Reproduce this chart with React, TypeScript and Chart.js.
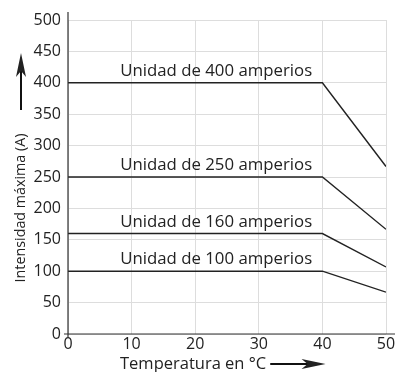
import React, { useEffect, useRef } from "react";
import { Chart, registerables } from "chart.js";

Chart.register(...registerables);

const temps = [0, 40, 50];
const unit400 = [400, 400, 266.7];
const unit250 = [250, 250, 166.7];
const unit160 = [160, 160, 106.7];
const unit100 = [100, 100, 66.7];
const seriesLabels = [
  "Unidad de 400 amperios",
  "Unidad de 250 amperios",
  "Unidad de 160 amperios",
  "Unidad de 100 amperios",
];
const labelX = 23.3;
const xTitle = "Temperatura en °C";
const yTitle = "Intensidad máxima (A)";

const FONT = "'Open Sans', 'Noto Sans', sans-serif";

const decorPlugin = {
  id: "decor",
  afterDatasetsDraw(chart: any) {
    const ctx = chart.ctx;
    const { left, right, top, bottom } = chart.chartArea;
    const xs = chart.scales.x;
    const ys = chart.scales.y;
    ctx.save();
    // axes
    ctx.strokeStyle = "#333";
    ctx.lineWidth = 1.2;
    ctx.beginPath();
    ctx.moveTo(left, top - 8);
    ctx.lineTo(left, bottom + 3);
    ctx.moveTo(left - 4, bottom);
    ctx.lineTo(right + 9, bottom);
    ctx.stroke();
    // series labels
    ctx.fillStyle = "#222";
    ctx.font = `16.8px ${FONT}`;
    ctx.textAlign = "center";
    ctx.textBaseline = "alphabetic";
    chart.data.datasets.forEach((ds: any, i: number) => {
      const y = ys.getPixelForValue(ds.data[0].y);
      ctx.fillText(seriesLabels[i], xs.getPixelForValue(labelX), y - 7);
    });
    // x title with arrow
    ctx.font = `16.5px ${FONT}`;
    ctx.textAlign = "left";
    ctx.textBaseline = "middle";
    const tx = 120;
    const ty = 364;
    ctx.fillText(xTitle, tx, ty);
    const tw = ctx.measureText(xTitle).width;
    const ax0 = tx + tw + 4;
    const ax1 = xs.getPixelForValue(40.5);
    ctx.strokeStyle = "#111";
    ctx.lineWidth = 2;
    ctx.beginPath();
    ctx.moveTo(ax0, ty);
    ctx.lineTo(ax1 - 10, ty);
    ctx.stroke();
    ctx.beginPath();
    ctx.moveTo(ax1, ty);
    ctx.lineTo(ax1 - 24, ty - 5);
    ctx.lineTo(ax1 - 18, ty);
    ctx.lineTo(ax1 - 24, ty + 5);
    ctx.closePath();
    ctx.fill();
    // y title with arrow
    ctx.font = `14.3px ${FONT}`;
    ctx.save();
    ctx.translate(21, 208);
    ctx.rotate(-Math.PI / 2);
    ctx.textAlign = "center";
    ctx.textBaseline = "middle";
    ctx.fillText(yTitle, 0, 0);
    ctx.restore();
    const yx = 21;
    const yTop = 53;
    const yBot = 110;
    ctx.beginPath();
    ctx.moveTo(yx, yBot);
    ctx.lineTo(yx, yTop + 10);
    ctx.stroke();
    ctx.beginPath();
    ctx.moveTo(yx, yTop);
    ctx.lineTo(yx - 5, yTop + 24);
    ctx.lineTo(yx, yTop + 18);
    ctx.lineTo(yx + 5, yTop + 24);
    ctx.closePath();
    ctx.fill();
    ctx.restore();
  },
};

export default function App() {
  const ref = useRef<HTMLCanvasElement>(null);
  useEffect(() => {
    const mk = (vals: number[]) => ({
      data: temps.map((t, i) => ({ x: t, y: vals[i] })),
      borderColor: "#222",
      borderWidth: 1.4,
      pointRadius: 0,
      fill: false,
      tension: 0,
    });
    const chart = new Chart(ref.current!, {
      type: "line",
      data: {
        datasets: [mk(unit400), mk(unit250), mk(unit160), mk(unit100)],
      },
      options: {
        animation: false,
        responsive: false,
        maintainAspectRatio: false,
        layout: { padding: { top: 20, right: 12, left: 0, bottom: 0 } },
        plugins: { legend: { display: false }, tooltip: { enabled: false } },
        scales: {
          x: {
            type: "linear",
            min: 0,
            max: 50,
            ticks: { stepSize: 10, color: "#222", font: { family: FONT, size: 16 }, padding: 1 },
            grid: { color: "#dddddd", drawTicks: false },
            border: { display: false },
            afterFit: (s: any) => {
              s.height = 38;
            },
          },
          y: {
            min: 0,
            max: 500,
            ticks: { stepSize: 50, color: "#222", font: { family: FONT, size: 16 }, padding: 7 },
            grid: { color: "#dddddd", drawTicks: false },
            border: { display: false },
            afterFit: (s: any) => {
              s.width = 68;
            },
          },
        },
      },
      plugins: [decorPlugin],
    });
    return () => chart.destroy();
  }, []);
  return (
    <div style={{ position: "fixed", left: 0, top: 0, width: 398, height: 372, background: "#fff" }}>
      <canvas ref={ref} width={398} height={372} />
    </div>
  );
}
